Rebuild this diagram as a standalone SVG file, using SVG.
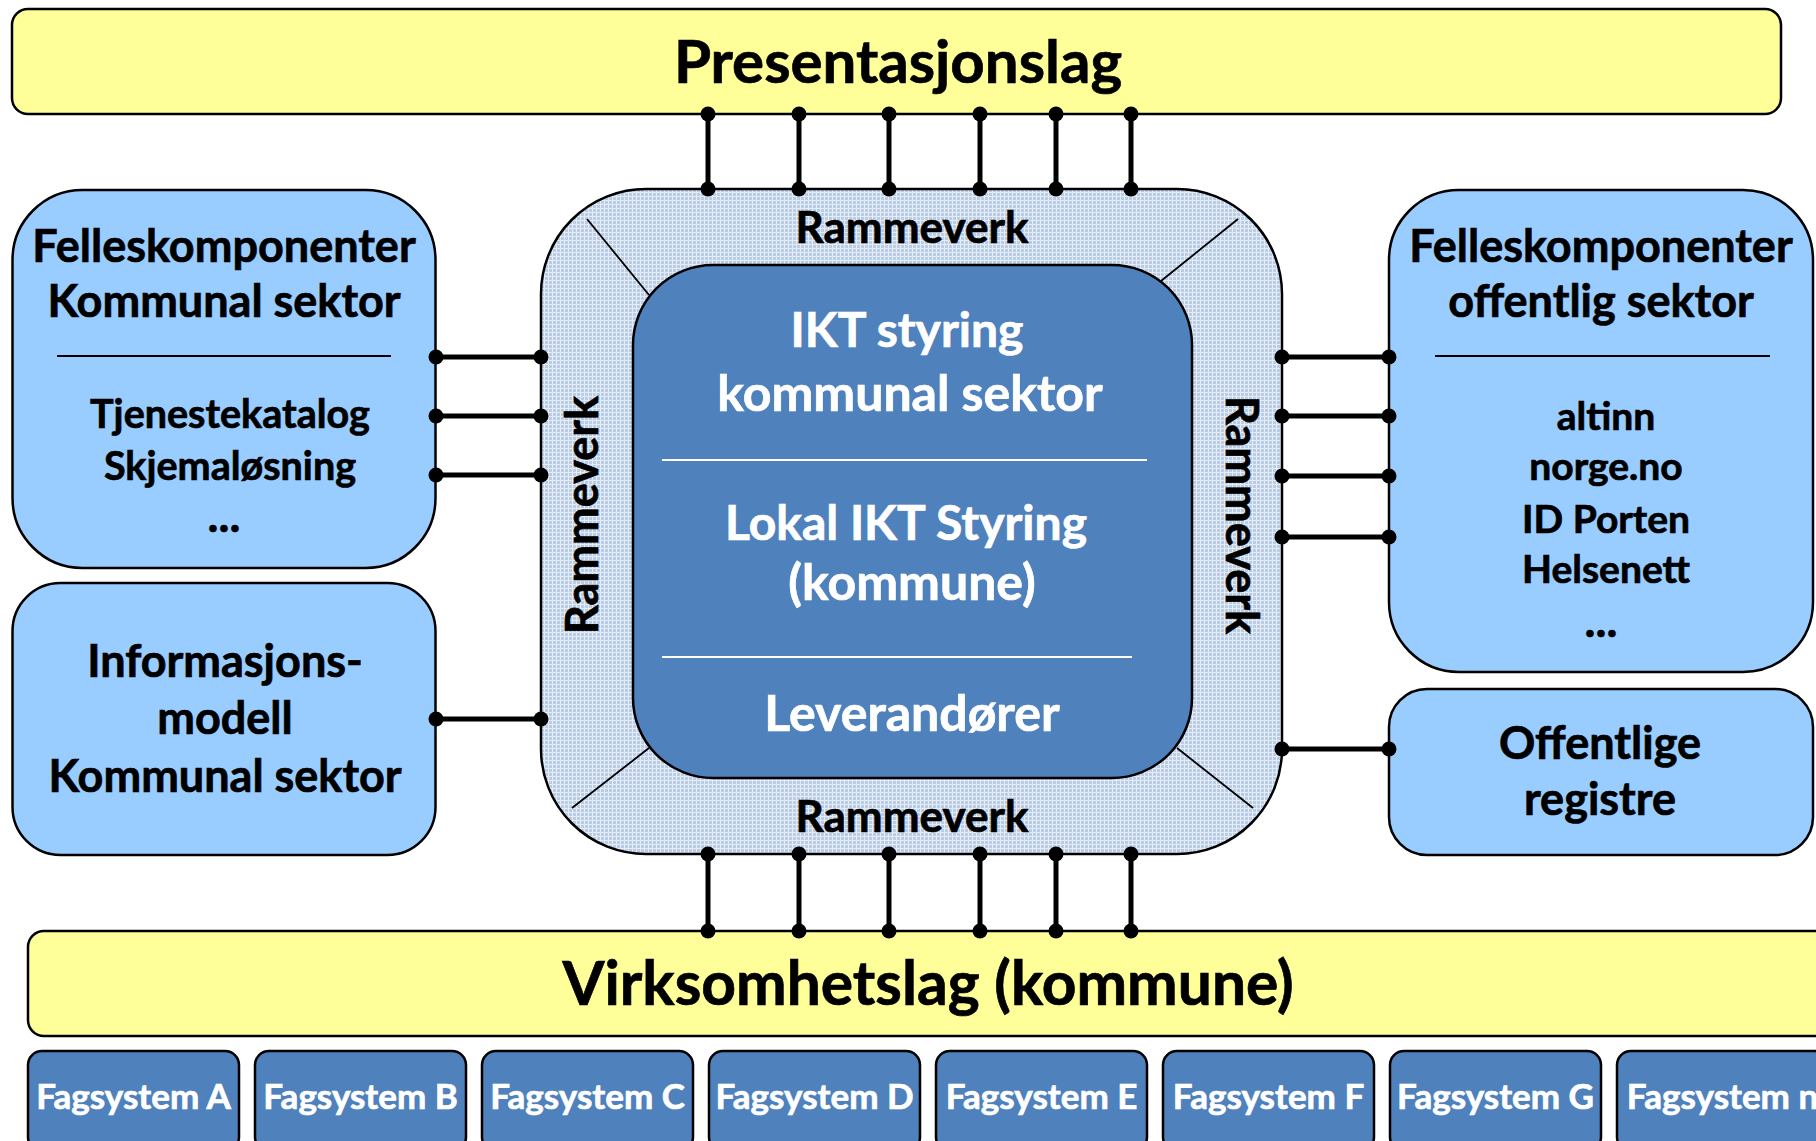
<svg xmlns="http://www.w3.org/2000/svg" width="1816" height="1141" viewBox="0 0 1816 1141">
<style>
.bar{fill:#ffff99;stroke:#000;stroke-width:2.5}
.light{fill:#99ccff;stroke:#000;stroke-width:2.5}
.dark{fill:#4f81bd;stroke:#000;stroke-width:2.5}
.frame{fill:url(#grid);stroke:#000;stroke-width:2.5}
.t{font-family:Lato,"Open Sans","Noto Sans",sans-serif;font-weight:700;text-anchor:middle;fill:#000;stroke:#000;stroke-width:0.7}
.w{fill:#fff;stroke:#fff}
.sep{stroke:#000;stroke-width:1.8}
.wsep{stroke:#fff;stroke-width:2}
.diag{stroke:#000;stroke-width:1.8}
.con{stroke:#000;stroke-width:5;fill:none;marker-start:url(#dot);marker-end:url(#dot)}
</style>
<defs>
<pattern id="grid" width="4" height="4" patternUnits="userSpaceOnUse">
<rect width="4" height="4" fill="#bacce6"/>
<path d="M0 0.5H4M0.5 0V4" stroke="#e4ecf6" stroke-width="1"/>
</pattern>
<marker id="dot" viewBox="-8 -8 16 16" markerWidth="16" markerHeight="16" refX="0" refY="0" markerUnits="userSpaceOnUse">
<circle r="7.5" fill="#000"/>
</marker>
</defs>
<rect width="1816" height="1141" fill="#fff"/>

<g id="presentasjonslag">
<rect class="bar" x="12" y="9" width="1769" height="105" rx="16"/>
<text class="t" x="898" y="83" font-size="60">Presentasjonslag</text>
</g>

<g id="rammeverk">
<rect class="frame" x="541" y="189" width="741" height="665" rx="105"/>
<line class="diag" x1="587" y1="219" x2="649" y2="295"/>
<line class="diag" x1="1238" y1="219" x2="1161" y2="281"/>
<line class="diag" x1="572" y1="808" x2="649" y2="748"/>
<line class="diag" x1="1253" y1="808" x2="1177" y2="748"/>
<text class="t" x="912" y="243" font-size="44">Rammeverk</text>
<text class="t" x="912" y="832" font-size="44">Rammeverk</text>
<text class="t" font-size="45" transform="translate(598,515) rotate(-90)">Rammeverk</text>
<text class="t" font-size="45" transform="translate(1226,515) rotate(90)">Rammeverk</text>
</g>

<g id="ikt-styring">
<rect class="dark" x="633" y="265" width="559" height="513" rx="80"/>
<text class="t w" x="907" y="347" font-size="48">IKT styring</text>
<text class="t w" x="910" y="411" font-size="50">kommunal sektor</text>
<line class="wsep" x1="662" y1="460" x2="1147" y2="460"/>
<text class="t w" x="906" y="540" font-size="48">Lokal IKT Styring</text>
<text class="t w" x="912" y="600" font-size="50">(kommune)</text>
<line class="wsep" x1="662" y1="657" x2="1132" y2="657"/>
<text class="t w" x="912" y="731" font-size="50">Leverandører</text>
</g>

<g id="felles-kommunal">
<rect class="light" x="12.5" y="190" width="423" height="378" rx="70"/>
<text class="t" x="224" y="262" font-size="45">Felleskomponenter</text>
<text class="t" x="224" y="317" font-size="45">Kommunal sektor</text>
<line class="sep" x1="57" y1="356" x2="391" y2="356"/>
<text class="t" x="230" y="428" font-size="39.5">Tjenestekatalog</text>
<text class="t" x="230" y="480" font-size="39.5">Skjemaløsning</text>
<text class="t" x="224" y="532" font-size="46">...</text>
</g>

<g id="informasjonsmodell">
<rect class="light" x="12.5" y="583" width="423" height="272" rx="48"/>
<text class="t" x="225" y="677" font-size="45">Informasjons-</text>
<text class="t" x="225" y="734" font-size="45">modell</text>
<text class="t" x="225" y="792" font-size="45">Kommunal sektor</text>
</g>

<g id="felles-offentlig">
<rect class="light" x="1389" y="190" width="424" height="482" rx="70"/>
<text class="t" x="1601" y="262" font-size="45">Felleskomponenter</text>
<text class="t" x="1601" y="317" font-size="45">offentlig sektor</text>
<line class="sep" x1="1435" y1="356" x2="1770" y2="356"/>
<text class="t" x="1606" y="430" font-size="39">altinn</text>
<text class="t" x="1606" y="480" font-size="39">norge.no</text>
<text class="t" x="1606" y="533" font-size="39">ID Porten</text>
<text class="t" x="1606" y="583" font-size="39">Helsenett</text>
<text class="t" x="1601" y="637" font-size="46">...</text>
</g>

<g id="offentlige-registre">
<rect class="light" x="1389" y="689" width="424" height="166" rx="38"/>
<text class="t" x="1600" y="759" font-size="45">Offentlige</text>
<text class="t" x="1600" y="815" font-size="45">registre</text>
</g>

<g id="virksomhetslag">
<rect class="bar" x="28" y="931" width="1810" height="105" rx="16"/>
<text class="t" x="928" y="1005" font-size="60.5">Virksomhetslag (kommune)</text>
</g>

<g id="fagsystemer">
<g id="fagsystem-a"><rect class="dark" x="28" y="1051" width="211" height="100" rx="14"/><text class="t w" x="133.5" y="1109" font-size="35">Fagsystem A</text></g>
<g id="fagsystem-b"><rect class="dark" x="255" y="1051" width="211" height="100" rx="14"/><text class="t w" x="360.5" y="1109" font-size="35">Fagsystem B</text></g>
<g id="fagsystem-c"><rect class="dark" x="482" y="1051" width="211" height="100" rx="14"/><text class="t w" x="587.5" y="1109" font-size="35">Fagsystem C</text></g>
<g id="fagsystem-d"><rect class="dark" x="709" y="1051" width="211" height="100" rx="14"/><text class="t w" x="814.5" y="1109" font-size="35">Fagsystem D</text></g>
<g id="fagsystem-e"><rect class="dark" x="936" y="1051" width="211" height="100" rx="14"/><text class="t w" x="1041.5" y="1109" font-size="35">Fagsystem E</text></g>
<g id="fagsystem-f"><rect class="dark" x="1163" y="1051" width="211" height="100" rx="14"/><text class="t w" x="1268.5" y="1109" font-size="35">Fagsystem F</text></g>
<g id="fagsystem-g"><rect class="dark" x="1390" y="1051" width="211" height="100" rx="14"/><text class="t w" x="1495.5" y="1109" font-size="35">Fagsystem G</text></g>
<g id="fagsystem-n"><rect class="dark" x="1617" y="1051" width="211" height="100" rx="14"/><text class="t w" x="1722.5" y="1109" font-size="35">Fagsystem n</text></g>
</g>

<g id="connectors">
<line class="con" x1="708" y1="114" x2="708" y2="189"/>
<line class="con" x1="799" y1="114" x2="799" y2="189"/>
<line class="con" x1="889" y1="114" x2="889" y2="189"/>
<line class="con" x1="980" y1="114" x2="980" y2="189"/>
<line class="con" x1="1056" y1="114" x2="1056" y2="189"/>
<line class="con" x1="1131" y1="114" x2="1131" y2="189"/>
<line class="con" x1="708" y1="854" x2="708" y2="931"/>
<line class="con" x1="799" y1="854" x2="799" y2="931"/>
<line class="con" x1="889" y1="854" x2="889" y2="931"/>
<line class="con" x1="980" y1="854" x2="980" y2="931"/>
<line class="con" x1="1056" y1="854" x2="1056" y2="931"/>
<line class="con" x1="1131" y1="854" x2="1131" y2="931"/>
<line class="con" x1="436" y1="357" x2="541" y2="357"/>
<line class="con" x1="436" y1="416" x2="541" y2="416"/>
<line class="con" x1="436" y1="475" x2="541" y2="475"/>
<line class="con" x1="436" y1="719" x2="541" y2="719"/>
<line class="con" x1="1282" y1="357" x2="1389" y2="357"/>
<line class="con" x1="1282" y1="416" x2="1389" y2="416"/>
<line class="con" x1="1282" y1="476" x2="1389" y2="476"/>
<line class="con" x1="1282" y1="537" x2="1389" y2="537"/>
<line class="con" x1="1282" y1="749" x2="1389" y2="749"/>
</g>
</svg>
